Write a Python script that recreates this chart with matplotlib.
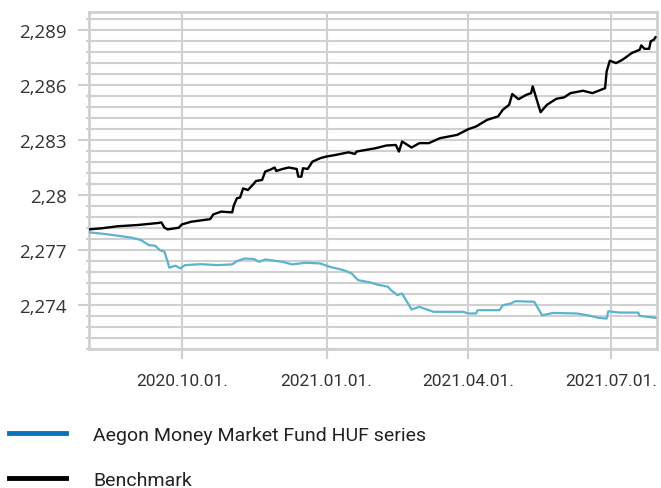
import numpy as np
import pandas as pd
import matplotlib
matplotlib.use("Agg")
import matplotlib.pyplot as plt
import matplotlib.dates as mdates
from matplotlib.lines import Line2D
from matplotlib.ticker import FixedLocator, FuncFormatter

# DATA
fund_dates = [
    "2020-08-03", "2020-08-11", "2020-08-21", "2020-08-30", "2020-09-05", "2020-09-10",
    "2020-09-14", "2020-09-17", "2020-09-20", "2020-09-22", "2020-09-23", "2020-09-27",
    "2020-09-30", "2020-10-03", "2020-10-13", "2020-10-24", "2020-11-02", "2020-11-05",
    "2020-11-10", "2020-11-16", "2020-11-19", "2020-11-23", "2020-12-04", "2020-12-10",
    "2020-12-19", "2020-12-28", "2021-01-03", "2021-01-12", "2021-01-17", "2021-01-21",
    "2021-01-29", "2021-02-02", "2021-02-09", "2021-02-11", "2021-02-15", "2021-02-18",
    "2021-02-24", "2021-03-01", "2021-03-10", "2021-03-16", "2021-03-29", "2021-04-01",
    "2021-04-06", "2021-04-07", "2021-04-21", "2021-04-23", "2021-04-28", "2021-05-01",
    "2021-05-13", "2021-05-18", "2021-05-25", "2021-06-09", "2021-06-16", "2021-06-23",
    "2021-06-28", "2021-06-29", "2021-07-06", "2021-07-18", "2021-07-19", "2021-07-29",
]
fund_values = [
    2.27797, 2.27790, 2.27779, 2.27768, 2.27755, 2.27727,
    2.27724, 2.27700, 2.27691, 2.27636, 2.27604, 2.27615,
    2.27600, 2.27618, 2.27623, 2.27618, 2.27622, 2.27640,
    2.27654, 2.27651, 2.27636, 2.27649, 2.27636, 2.27622,
    2.27631, 2.27627, 2.27609, 2.27590, 2.27572, 2.27536,
    2.27523, 2.27512, 2.27500, 2.27481, 2.27454, 2.27463,
    2.27376, 2.27390, 2.27363, 2.27363, 2.27363, 2.27354,
    2.27354, 2.27372, 2.27372, 2.27399, 2.27408, 2.27421,
    2.27418, 2.27344, 2.27357, 2.27354, 2.27344, 2.27330,
    2.27326, 2.27366, 2.27359, 2.27359, 2.27341, 2.27330,
]

bench_dates = [
    "2020-08-03", "2020-08-11", "2020-08-21", "2020-09-03", "2020-09-16", "2020-09-18",
    "2020-09-20", "2020-09-22", "2020-09-29", "2020-10-01", "2020-10-07", "2020-10-19",
    "2020-10-21", "2020-10-26", "2020-11-02", "2020-11-03", "2020-11-05", "2020-11-07",
    "2020-11-09", "2020-11-12", "2020-11-16", "2020-11-17", "2020-11-21", "2020-11-23",
    "2020-11-26", "2020-11-29", "2020-11-30", "2020-12-04", "2020-12-08", "2020-12-13",
    "2020-12-14", "2020-12-16", "2020-12-17", "2020-12-20", "2020-12-23", "2020-12-28",
    "2021-01-01", "2021-01-07", "2021-01-15", "2021-01-19", "2021-01-20", "2021-01-26",
    "2021-02-01", "2021-02-08", "2021-02-14", "2021-02-16", "2021-02-18", "2021-02-24",
    "2021-03-01", "2021-03-07", "2021-03-14", "2021-03-25", "2021-04-01", "2021-04-06",
    "2021-04-13", "2021-04-20", "2021-04-23", "2021-04-27", "2021-04-29", "2021-05-03",
    "2021-05-08", "2021-05-11", "2021-05-12", "2021-05-17", "2021-05-21", "2021-05-27",
    "2021-06-01", "2021-06-05", "2021-06-13", "2021-06-19", "2021-06-27", "2021-06-28",
    "2021-06-30", "2021-07-04", "2021-07-08", "2021-07-14", "2021-07-19", "2021-07-20",
    "2021-07-22", "2021-07-25", "2021-07-26", "2021-07-28", "2021-07-29",
]
bench_values = [
    2.27813, 2.27819, 2.27830, 2.27837, 2.27848, 2.27851,
    2.27822, 2.27813, 2.27822, 2.27840, 2.27855, 2.27869,
    2.27895, 2.27910, 2.27906, 2.27943, 2.27983, 2.27987,
    2.28037, 2.28028, 2.28065, 2.28077, 2.28083, 2.28129,
    2.28138, 2.28151, 2.28132, 2.28143, 2.28151, 2.28143,
    2.28101, 2.28101, 2.28147, 2.28143, 2.28183, 2.28202,
    2.28211, 2.28220, 2.28234, 2.28225, 2.28238, 2.28247,
    2.28256, 2.28271, 2.28274, 2.28238, 2.28293, 2.28260,
    2.28284, 2.28284, 2.28311, 2.28329, 2.28360, 2.28375,
    2.28411, 2.28430, 2.28466, 2.28493, 2.28552, 2.28524,
    2.28548, 2.28557, 2.28594, 2.28453, 2.28493, 2.28526,
    2.28534, 2.28557, 2.28570, 2.28557, 2.28584, 2.28676,
    2.28734, 2.28721, 2.28739, 2.28776, 2.28794, 2.28818,
    2.28799, 2.28799, 2.28840, 2.28849, 2.28862,
]

series_labels = ["Aegon Money Market Fund HUF series", "Benchmark"]
x_ticks = ["2020-10-01", "2021-01-01", "2021-04-01", "2021-07-01"]
y_ticks = [2.274, 2.277, 2.280, 2.283, 2.286, 2.289]

# STYLE
GRID = "#d0d0d0"
FUND_COLOR = "#5bb3cd"
FUND_LEGEND = "#0a72ba"
TEXT = "#333333"

fig = plt.figure(figsize=(6.61, 4.89), dpi=100)
ax = fig.add_axes([89 / 661, 1 - 350 / 489, (657 - 89) / 661, (350 - 13) / 489])

ax.plot(pd.to_datetime(fund_dates), fund_values, color=FUND_COLOR, lw=1.6, zorder=3)
ax.plot(pd.to_datetime(bench_dates), bench_values, color="black", lw=1.7, zorder=4)

# axes limits and ticks
ax.set_xlim(pd.Timestamp("2020-08-03"), pd.Timestamp("2021-07-30"))
ax.set_ylim(2.2716, 2.2900)

ax.xaxis.set_major_locator(FixedLocator(mdates.date2num(pd.to_datetime(x_ticks))))
ax.xaxis.set_major_formatter(mdates.DateFormatter("%Y.%m.%d."))
ax.yaxis.set_major_locator(FixedLocator(y_ticks))
minor = np.round(np.arange(2.2716, 2.2897, 0.0006), 4)
ax.yaxis.set_minor_locator(FixedLocator(minor))
ax.yaxis.set_major_formatter(FuncFormatter(lambda v, p: f"{v:.3f}".rstrip("0").replace(".", ",")))

ax.grid(True, which="both", axis="y", color=GRID, lw=1.5)
ax.grid(True, which="major", axis="x", color=GRID, lw=1.5)
ax.set_axisbelow(True)

for s in ax.spines.values():
    s.set_color(GRID)
    s.set_linewidth(2)

ax.tick_params(axis="y", which="major", length=8, width=1.5, color=GRID, pad=8,
               labelsize=13.5, labelcolor=TEXT)
ax.tick_params(axis="y", which="minor", length=2.5, width=1.5, color=GRID)
ax.tick_params(axis="x", which="major", length=7, width=1.5, color=GRID, pad=10,
               labelsize=12.5, labelcolor=TEXT)
for lab in ax.get_yticklabels():
    lab.set_family("Open Sans")
for lab in ax.get_xticklabels():
    lab.set_family("Roboto")

# legend below the chart
handles = [Line2D([], [], color=FUND_LEGEND, lw=3.5), Line2D([], [], color="black", lw=3.5)]
fig.legend(handles, series_labels, loc="upper left", bbox_to_anchor=(0.005, 0.139),
           frameon=False, handlelength=2.93, handletextpad=1.4, labelspacing=1.38,
           borderaxespad=0, borderpad=0.3, prop={"family": "Roboto", "size": 14},
           labelcolor="#222222")

fig.savefig("out.png", dpi=100)
